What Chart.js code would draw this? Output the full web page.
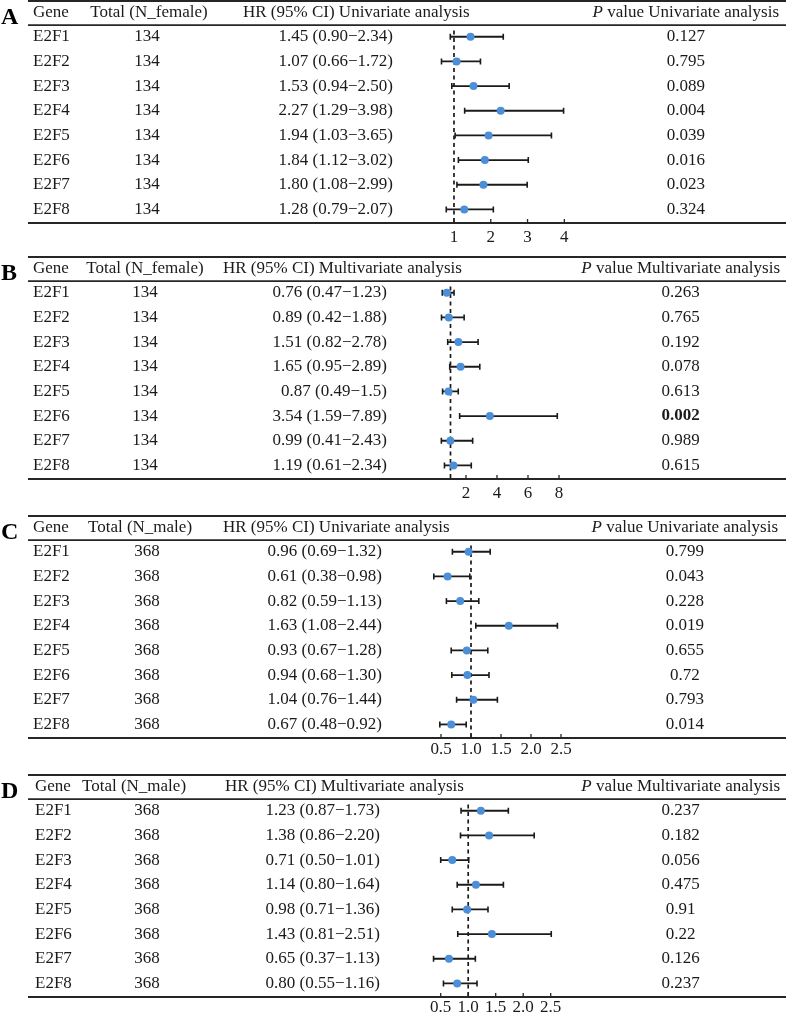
<!DOCTYPE html>
<html lang="en">
<head>
<meta charset="UTF-8">
<title>E2F family - forest plots</title>
<script src="https://cdn.jsdelivr.net/npm/chart.js@4"></script>
<style>
  body { margin: 0; background: #fff; }
  #wrap { position: relative; width: 786px; height: 1015px; overflow: hidden; }
  canvas { position: absolute; left: 0; }
  #panelA { top: -9px; }
  #panelB { top: 247px; }
  #panelC { top: 506px; }
  #panelD { top: 765px; }
</style>
</head>
<body>
<div id="wrap">
  <canvas id="panelA" width="786" height="258"></canvas>
  <canvas id="panelB" width="786" height="258"></canvas>
  <canvas id="panelC" width="786" height="258"></canvas>
  <canvas id="panelD" width="786" height="258"></canvas>
</div>

<script>
// ---- data ----
const genes = ['E2F1', 'E2F2', 'E2F3', 'E2F4', 'E2F5', 'E2F6', 'E2F7', 'E2F8'];
const refHR = 1;

// A: female, univariate
const aN = 134;
const aHR = ['1.45', '1.07', '1.53', '2.27', '1.94', '1.84', '1.80', '1.28'];
const aLo = ['0.90', '0.66', '0.94', '1.29', '1.03', '1.12', '1.08', '0.79'];
const aHi = ['2.34', '1.72', '2.50', '3.98', '3.65', '3.02', '2.99', '2.07'];
const aP = ['0.127', '0.795', '0.089', '0.004', '0.039', '0.016', '0.023', '0.324'];
const aTicks = [1, 2, 3, 4];
const aTickLabels = ['1', '2', '3', '4'];

// B: female, multivariate
const bN = 134;
const bHR = ['0.76', '0.89', '1.51', '1.65', '0.87', '3.54', '0.99', '1.19'];
const bLo = ['0.47', '0.42', '0.82', '0.95', '0.49', '1.59', '0.41', '0.61'];
const bHi = ['1.23', '1.88', '2.78', '2.89', '1.5', '7.89', '2.43', '2.34'];
const bP = ['0.263', '0.765', '0.192', '0.078', '0.613', '0.002', '0.989', '0.615'];
const bBold = ['E2F6'];
const bTicks = [2, 4, 6, 8];
const bTickLabels = ['2', '4', '6', '8'];

// C: male, univariate
const cN = 368;
const cHR = ['0.96', '0.61', '0.82', '1.63', '0.93', '0.94', '1.04', '0.67'];
const cLo = ['0.69', '0.38', '0.59', '1.08', '0.67', '0.68', '0.76', '0.48'];
const cHi = ['1.32', '0.98', '1.13', '2.44', '1.28', '1.30', '1.44', '0.92'];
const cP = ['0.799', '0.043', '0.228', '0.019', '0.655', '0.72', '0.793', '0.014'];
const cTicks = [0.5, 1, 1.5, 2, 2.5];
const cTickLabels = ['0.5', '1.0', '1.5', '2.0', '2.5'];

// D: male, multivariate
const dN = 368;
const dHR = ['1.23', '1.38', '0.71', '1.14', '0.98', '1.43', '0.65', '0.80'];
const dLo = ['0.87', '0.86', '0.50', '0.80', '0.71', '0.81', '0.37', '0.55'];
const dHi = ['1.73', '2.20', '1.01', '1.64', '1.36', '2.51', '1.13', '1.16'];
const dP = ['0.237', '0.182', '0.056', '0.475', '0.91', '0.22', '0.126', '0.237'];
const dTicks = [0.5, 1, 1.5, 2, 2.5];
const dTickLabels = ['0.5', '1.0', '1.5', '2.0', '2.5'];

// ---- drawing ----
const FONT = '"Liberation Serif", "Times New Roman", serif';
const INK = '#1a1a1a';
const TXT = '#1a1a1a';
const DOT = '#4a8fd8';

// table text, rules, reference line and inward ticks around the plot
const forestTable = {
  id: 'forestTable',
  beforeDatasetsDraw(chart, args, o) {
    const { ctx, chartArea } = chart;
    const x = chart.scales.x, y = chart.scales.y;
    const px = x.getPixelForValue(refHR);
    ctx.save();
    ctx.strokeStyle = INK;
    ctx.lineWidth = 1.7;
    ctx.setLineDash([4, 3.5]);
    ctx.beginPath();
    ctx.moveTo(px, y.getPixelForValue(0.75));
    ctx.lineTo(px, chartArea.bottom);
    ctx.stroke();
    ctx.restore();
  },
  afterDraw(chart, args, o) {
    const { ctx, chartArea } = chart;
    const x = chart.scales.x, y = chart.scales.y;
    const f = '17px ' + FONT;
    ctx.save();

    ctx.strokeStyle = '#262626';
    ctx.lineWidth = 1.8;
    [chartArea.top, y.getPixelForValue(0.53), chartArea.bottom].forEach(py => {
      ctx.beginPath();
      ctx.moveTo(28, py);
      ctx.lineTo(786, py);
      ctx.stroke();
    });
    ctx.lineWidth = 1.3;
    x.ticks.forEach(t => {
      const tx = x.getPixelForValue(t.value);
      ctx.beginPath();
      ctx.moveTo(tx, chartArea.bottom - 4);
      ctx.lineTo(tx, chartArea.bottom);
      ctx.stroke();
    });

    ctx.textBaseline = 'middle';
    ctx.fillStyle = '#000';
    ctx.font = 'bold 24px ' + FONT;
    ctx.textAlign = 'left';
    ctx.fillText(o.letter, 1, chartArea.top + 17);

    // header row
    ctx.fillStyle = TXT;
    ctx.font = f;
    const hy = y.getPixelForValue(0);
    ctx.fillText('Gene', o.geneX, hy);
    ctx.textAlign = 'center';
    ctx.fillText(o.totalLabel, o.totalX, hy);
    ctx.textAlign = 'left';
    ctx.fillText('HR (95% CI) ' + o.analysis, o.hrX, hy);
    const rest = ' value ' + o.analysis;
    const wRest = ctx.measureText(rest).width;
    ctx.font = 'italic ' + f;
    const wP = ctx.measureText('P').width;
    const pLeft = o.pRight - wRest - wP;
    ctx.fillText('P', pLeft, hy);
    ctx.font = f;
    ctx.fillText(rest, pLeft + wP, hy);
    const pCenter = pLeft + (wP + wRest) / 2;

    // data rows
    genes.forEach((g, i) => {
      const ry = y.getPixelForValue(i + 1);
      ctx.font = f;
      ctx.textAlign = 'left';
      ctx.fillText(g, o.geneX, ry);
      ctx.textAlign = 'center';
      ctx.fillText(String(o.n), o.nX, ry);
      ctx.textAlign = 'right';
      ctx.fillText(o.hr[i] + ' (' + o.lo[i] + '\u2212' + o.hi[i] + ')', o.hrRight, ry);
      ctx.textAlign = 'center';
      if (o.bold.includes(g)) ctx.font = 'bold ' + f;
      ctx.fillText(o.p[i], pCenter, ry);
    });
    ctx.restore();
  }
};

function makePanel(id, hr, lo, hi, p, n, ticks, tickLabels, lay) {
  const ciSets = genes.map((g, i) => ({
    data: [{ x: +lo[i], y: i + 1 }, { x: +hi[i], y: i + 1 }],
    showLine: true,
    borderColor: INK,
    borderWidth: 1.8,
    pointStyle: 'line',
    pointRotation: 90,
    pointRadius: 3,
    pointBorderWidth: 1.6,
    pointBorderColor: INK,
    order: 2
  }));
  const dots = {
    data: hr.map((v, i) => ({ x: +v, y: i + 1 })),
    pointStyle: 'circle',
    pointRadius: 4,
    pointBackgroundColor: DOT,
    pointBorderWidth: 0,
    order: 1
  };

  new Chart(document.getElementById(id), {
    type: 'scatter',
    data: { datasets: [...ciSets, dots] },
    options: {
      responsive: false,
      animation: false,
      events: [],
      layout: { padding: { left: lay.left, right: 786 - lay.right, top: 10, bottom: 0 } },
      plugins: {
        legend: { display: false },
        tooltip: { enabled: false },
        forestTable: {
          letter: lay.letter, analysis: lay.analysis, totalLabel: lay.totalLabel,
          geneX: lay.geneX, totalX: lay.totalX, nX: lay.nX, hrX: lay.hrX,
          hrRight: lay.hrRight, pRight: lay.pRight,
          n: n, hr: hr, lo: lo, hi: hi, p: p, bold: lay.bold || []
        }
      },
      scales: {
        x: {
          type: 'linear',
          min: lay.min,
          max: lay.max,
          grid: { display: false, drawTicks: false },
          border: { display: false },
          afterBuildTicks: s => { s.ticks = ticks.map(v => ({ value: v })); },
          afterFit: s => { s.height = 26; },
          ticks: {
            padding: lay.tickPad,
            color: TXT,
            autoSkip: false,
            maxRotation: 0,
            font: { family: FONT, size: 17 },
            callback: (v, i) => tickLabels[i]
          }
        },
        y: { type: 'linear', display: false, reverse: true, min: -0.45, max: 8.55 }
      }
    },
    plugins: [forestTable]
  });
}

makePanel('panelA', aHR, aLo, aHi, aP, aN, aTicks, aTickLabels, {
  letter: 'A', analysis: 'Univariate analysis', totalLabel: 'Total (N_female)',
  min: 0.5, max: 4.5, left: 435.6, right: 582.7, tickPad: 4,
  geneX: 33, totalX: 149, nX: 147, hrX: 243, hrRight: 393, pRight: 779
});
makePanel('panelB', bHR, bLo, bHi, bP, bN, bTicks, bTickLabels, {
  letter: 'B', analysis: 'Multivariate analysis', totalLabel: 'Total (N_female)',
  min: 0, max: 9, left: 435, right: 574.5, tickPad: 4, bold: bBold,
  geneX: 33, totalX: 145, nX: 145, hrX: 223, hrRight: 387, pRight: 780
});
makePanel('panelC', cHR, cLo, cHi, cP, cN, cTicks, cTickLabels, {
  letter: 'C', analysis: 'Univariate analysis', totalLabel: 'Total (N_male)',
  min: 0.3, max: 2.7, left: 429, right: 573, tickPad: 1,
  geneX: 33, totalX: 140, nX: 147, hrX: 223, hrRight: 382, pRight: 778
});
makePanel('panelD', dHR, dLo, dHi, dP, dN, dTicks, dTickLabels, {
  letter: 'D', analysis: 'Multivariate analysis', totalLabel: 'Total (N_male)',
  min: 0.3, max: 2.7, left: 429.7, right: 561.7, tickPad: 0,
  geneX: 35, totalX: 134, nX: 147, hrX: 225, hrRight: 380, pRight: 780
});
</script>
</body>
</html>
